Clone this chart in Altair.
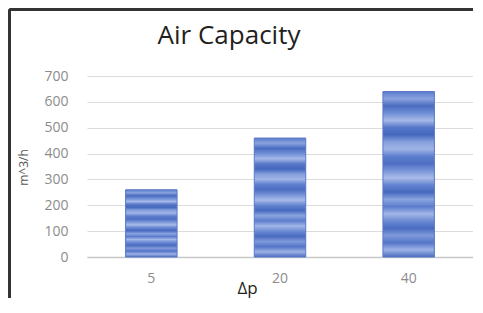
import altair as alt
import pandas as pd

categories = ["5", "20", "40"]
values = [260, 460, 640]
y_ticks = [0, 100, 200, 300, 400, 500, 600, 700]

df = pd.DataFrame({"dp": categories, "cap": values})

W, H = 386, 181
PAD = {"left": 79, "top": 68, "right": 0, "bottom": 41}

stripe_colors = [
    "#5a7bcc", "#8aa2de", "#4a6cc0", "#6f8ed6", "#a6b9e8", "#5777c9",
    "#4467bd", "#86a0dd", "#9fb4e6", "#5e7ecf", "#4d6ec2", "#7893d8",
    "#a9bbe9", "#6384d1", "#4769be", "#8ba4df", "#5b7ccd", "#a2b6e7",
    "#6a8ad4", "#4a6bbf", "#7f99da", "#5475c8", "#9cb1e5", "#4b6cc0",
]
n = len(stripe_colors)
stops = [alt.GradientStop(color=c, offset=i / (n - 1)) for i, c in enumerate(stripe_colors)]
grad = alt.Gradient(gradient="linear", stops=stops, x1=0, x2=0, y1=0, y2=1)

bars = alt.Chart(df).mark_bar(color=grad, stroke="#5878c9", strokeWidth=1).encode(
    x=alt.X(
        "dp:N",
        sort=categories,
        scale=alt.Scale(paddingInner=0.6, paddingOuter=0.3),
        axis=alt.Axis(
            title="Δp",
            labelAngle=0,
            labelFontSize=14,
            labelColor="#8c8c8c",
            labelFont="Open Sans",
            labelPadding=14,
            ticks=False,
            tickSize=0,
            domainColor="#c8c8c8",
            domainWidth=1.5,
            titleFont="Open Sans",
            titleFontSize=17,
            titleFontWeight="normal",
            titleColor="#231f20",
            titleX=160,
            titleY=36,
            titleBaseline="alphabetic",
            titleAlign="center",
            grid=False,
        ),
    ),
    y=alt.Y(
        "cap:Q",
        scale=alt.Scale(domain=[0, 700], nice=False),
        axis=alt.Axis(
            title="m^3/h",
            values=y_ticks,
            labelFontSize=14,
            labelColor="#8c8c8c",
            labelFont="Open Sans",
            labelPadding=19,
            ticks=False,
            tickSize=0,
            domain=False,
            gridColor="#dcdcdc",
            gridWidth=1,
            titleFont="Open Sans",
            titleFontSize=12,
            titleFontWeight="normal",
            titleColor="#555555",
            titleAngle=270,
            titleX=-64,
            titleY=91,
            titleAlign="center",
            titleBaseline="middle",
        ),
    ),
)

border_top = alt.Chart(df).mark_rule(color="#333333", strokeWidth=2.5).encode(
    x=alt.value(-PAD["left"] + 1.5),
    x2=alt.value(W + PAD["right"]),
    y=alt.value(-PAD["top"] + 1.5),
)
border_left = alt.Chart(df).mark_rule(color="#333333", strokeWidth=2.5).encode(
    x=alt.value(-PAD["left"] + 1.5),
    y=alt.value(-PAD["top"] + 1.5),
    y2=alt.value(H + PAD["bottom"]),
)

chart = alt.layer(bars, border_top, border_left).properties(
    width=W,
    height=H,
    autosize=alt.AutoSizeParams(type="none"),
    padding=PAD,
    background="white",
    title=alt.Title(
        "Air Capacity",
        font="Open Sans",
        fontSize=26,
        fontWeight="normal",
        color="#231f20",
        anchor="middle",
        dx=-51,
        baseline="alphabetic",
        offset=-62,
    ),
).configure_view(stroke=None)

chart.save("out.html", embed_options={"renderer": "svg", "actions": False})
